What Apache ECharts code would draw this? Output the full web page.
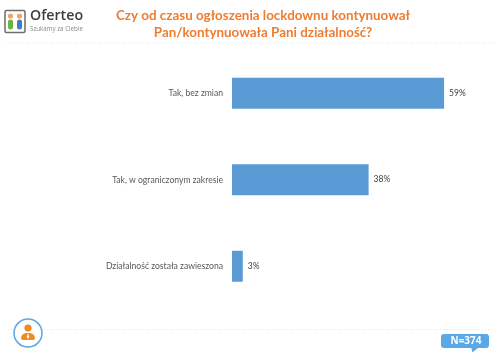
<!DOCTYPE html>
<html><head><meta charset="utf-8">
<style>html,body{margin:0;padding:0;background:#fff}#c{width:500px;height:361px}</style>
<script src="https://cdn.jsdelivr.net/npm/echarts@6/dist/echarts.min.js"></script>
</head><body><div id="c"></div>
<script>
const categories = ['Tak, bez zmian', 'Tak, w ograniczonym zakresie', 'Działalność została zawieszona'];
const values = [59, 38, 3];
const titleLines = 'Czy od czasu ogłoszenia lockdownu kontynuował\nPan/kontynuowała Pani działalność?';
const sampleSize = 'N=374';

const chart = echarts.init(document.getElementById('c'), null, {renderer:'canvas'});
const dotted = (x1,x2,y)=>({type:'line',shape:{x1,y1:y,x2,y2:y},style:{stroke:'#e4e4e4',lineWidth:1,lineDash:[1,2]}});
chart.setOption({
  animation:false,
  backgroundColor:'#fff',
  title:{text:titleLines,left:258,top:2,textAlign:'center',
    textStyle:{fontFamily:'Lato',fontWeight:'bold',fontSize:13.4,lineHeight:17,color:'#ED7D31'}},
  grid:{left:232,top:50,width:215.7,height:259.5},
  xAxis:{type:'value',min:0,max:60,show:false},
  yAxis:{type:'category',inverse:true,data:categories,
    axisLine:{show:false},axisTick:{show:false},
    axisLabel:{fontFamily:'Lato',fontSize:8.6,color:'#595959',margin:9,padding:[2,0,0,0]}},
  series:[{type:'bar',data:values,barWidth:31,
    itemStyle:{color:'#5B9BD5'},
    label:{show:true,position:'right',distance:5,formatter:'{c}%',padding:[2,0,0,0],
      fontFamily:'Lato',fontSize:8.5,color:'#404040'}}],
  graphic:[
    dotted(5,495,43),
    dotted(8,14,329.5),
    dotted(44,490,329.5),
    {type:'rect',shape:{x:5,y:10.5,width:20,height:22,r:1.5},style:{fill:'#fff',stroke:'#6d6d6d',lineWidth:1.5}},
    {type:'circle',shape:{cx:10.5,cy:16,r:2.6},style:{fill:'#F4A460'}},
    {type:'circle',shape:{cx:19.5,cy:16,r:2.6},style:{fill:'#F4A460'}},
    {type:'rect',shape:{x:8,y:19.5,width:5,height:10,r:2.5},style:{fill:'#6CB33F'}},
    {type:'rect',shape:{x:17,y:19.5,width:5,height:10,r:2.5},style:{fill:'#3E7CC4'}},
    {type:'text',style:{x:30,y:9,text:'Oferteo',fontFamily:'Open Sans',fontWeight:600,fontSize:14.2,fill:'#3c3c3c'}},
    {type:'text',style:{x:30,y:26,text:'Szukamy za Ciebie',fontFamily:'Open Sans',fontSize:6.2,fill:'#8a8a8a'}},
    {type:'circle',shape:{cx:28,cy:333,r:14},style:{fill:'#fff',stroke:'#5BA8E5',lineWidth:1.5}},
    {type:'circle',shape:{cx:28,cy:328,r:3.6},style:{fill:'#F08A24'}},
    {type:'rect',shape:{x:21,y:333,width:14,height:7,r:[6,6,2,2]},style:{fill:'#F08A24'}},
    {type:'polygon',shape:{points:[[28,333],[26.8,337],[28,339],[29.2,337]]},style:{fill:'#fff'}},
    {type:'rect',shape:{x:441,y:334,width:48,height:14,r:3},style:{fill:'#5AA9E6'}},
    {type:'polygon',shape:{points:[[471,347],[479,347],[472.5,352.5]]},style:{fill:'#5AA9E6'}},
    {type:'text',style:{x:466,y:336,text:sampleSize,align:'center',fontFamily:'Open Sans',fontWeight:'bold',fontSize:10,fill:'#fff'}}
  ]
});
</script></body></html>
